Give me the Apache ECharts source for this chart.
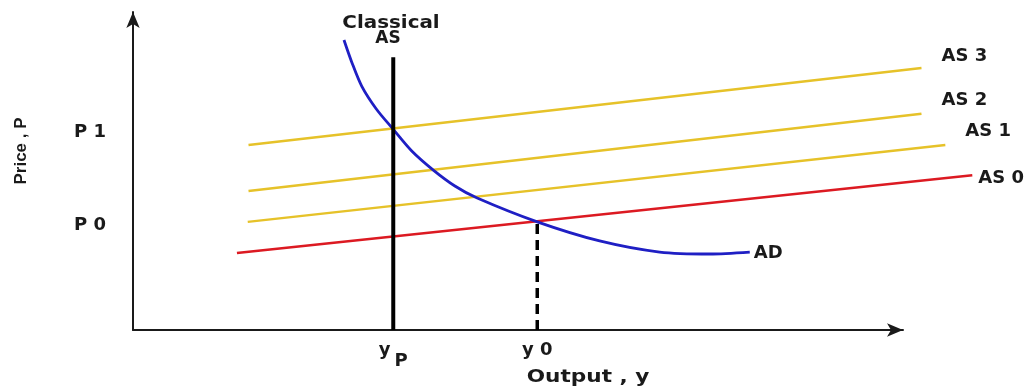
<!DOCTYPE html>
<html>
<head>
<meta charset="utf-8">
<script src="https://cdn.jsdelivr.net/npm/echarts@6/dist/echarts.min.js"></script>
<style>
  html, body { margin: 0; padding: 0; background: #fff; }
  #main { width: 1033px; height: 390px; }
</style>
</head>
<body>
<div id="main"></div>
<script>
// AS / AD diagram, values in arbitrary units (0..100 on the visible axes)
var as3 = [[15, 58.2], [102.4, 82.4]];
var as2 = [[15, 43.7], [102.4, 68.0]];
var as1 = [[14.9, 34.0], [105.5, 58.2]];
var as0 = [[13.5, 24.2], [109.0, 48.7]];
var adCurve = [
  [27.4, 91.2], [28.4, 84.3], [29.7, 76.7], [31.6, 69.5], [33.8, 63.1],
  [36.2, 56.3], [39.0, 50.3], [41.8, 45.3], [44.7, 41.5], [52.5, 34.0],
  [60.6, 28.0], [68.4, 24.5], [74.9, 23.9], [80.1, 24.5]
];
var classicalAS = [[33.8, 0], [33.8, 85.8]];
var y0Guide = [[52.5, 0], [52.5, 34.0]];

var yTickValues = [34.0, 63.2];
var yTickLabels = ['P 0', 'P 1'];
var xTickValues = [33.8, 52.5];
var xTickLabels = ['{a|y}{b|P}', 'y 0'];

var FONT = 'DejaVu Sans';
var INK = '#1a1a1a';

var chart = echarts.init(document.getElementById('main'));

function lookup(values, labels) {
  return function (v) {
    for (var i = 0; i < values.length; i++) {
      if (Math.abs(values[i] - v) < 0.01) return labels[i];
    }
    return '';
  };
}

function curve(name, data, color, width, offset, smooth) {
  return {
    name: name,
    type: 'line',
    xAxisIndex: 1,
    yAxisIndex: 1,
    data: data,
    smooth: smooth || false,
    showSymbol: false,
    silent: true,
    lineStyle: { color: color, width: width },
    endLabel: {
      show: true,
      formatter: name,
      distance: 0,
      offset: offset,
      color: INK,
      fontFamily: FONT,
      fontWeight: 'bold',
      fontSize: 18
    }
  };
}

var axisArrow = {
  show: true,
  symbol: ['none', 'arrow'],
  symbolSize: [10, 16],
  lineStyle: { color: INK, width: 2 }
};

var option = {
  animation: false,
  backgroundColor: '#fff',
  // grid 0 carries the visible axes, grid 1 (same scale, wider) carries the curves
  grid: [
    { left: 133, right: 130, top: 12, bottom: 60 },
    { left: 133, right: 53, top: 12, bottom: 60 }
  ],
  xAxis: [
    {
      type: 'value', gridIndex: 0, min: 0, max: 100,
      splitLine: { show: false },
      axisTick: { show: false },
      axisLine: axisArrow,
      axisLabel: {
        customValues: xTickValues,
        formatter: lookup(xTickValues, xTickLabels),
        margin: 11,
        color: INK,
        fontFamily: FONT,
        fontWeight: 'bold',
        fontSize: 18,
        rich: {
          a: { fontFamily: FONT, fontWeight: 'bold', fontSize: 18, color: INK, verticalAlign: 'top', lineHeight: 29 },
          b: { fontFamily: FONT, fontWeight: 'bold', fontSize: 18, color: INK, verticalAlign: 'bottom', lineHeight: 29, padding: [0, 0, 0, 4] }
        }
      }
    },
    {
      type: 'value', gridIndex: 1, min: 0, max: 110, show: false
    }
  ],
  yAxis: [
    {
      type: 'value', gridIndex: 0, min: 0, max: 100,
      splitLine: { show: false },
      axisTick: { show: false },
      axisLine: axisArrow,
      axisLabel: {
        customValues: yTickValues,
        formatter: lookup(yTickValues, yTickLabels),
        margin: 27,
        color: INK,
        fontFamily: FONT,
        fontWeight: 'bold',
        fontSize: 18,
        verticalAlign: 'top',
        lineHeight: 6
      }
    },
    {
      type: 'value', gridIndex: 1, min: 0, max: 100, show: false
    }
  ],
  graphic: [
    {
      type: 'text',
      x: 21, y: 151,
      rotation: Math.PI / 2,
      style: {
        text: 'Price , P',
        fill: INK,
        font: 'bold 17px "Liberation Sans"',
        textAlign: 'center',
        textVerticalAlign: 'middle'
      }
    },
    {
      type: 'text',
      x: 588, y: 377,
      scaleX: 1.2,
      style: {
        text: 'Output , y',
        fill: INK,
        font: 'bold 18px "DejaVu Sans"',
        textAlign: 'center',
        textVerticalAlign: 'middle'
      }
    },
    {
      type: 'text',
      x: 391, y: 24,
      scaleX: 1.17,
      style: {
        text: 'Classical',
        fill: INK,
        font: 'bold 17px "DejaVu Sans"',
        textAlign: 'center',
        textVerticalAlign: 'middle'
      }
    },
    {
      type: 'text',
      x: 388, y: 39,
      style: {
        text: 'AS',
        fill: INK,
        font: 'bold 17px "DejaVu Sans"',
        textAlign: 'center',
        textVerticalAlign: 'middle'
      }
    }
  ],
  series: [
    curve('AS 3', as3, '#e6c229', 2.5, [20, -12]),
    curve('AS 2', as2, '#e6c229', 2.5, [20, -13]),
    curve('AS 1', as1, '#e6c229', 2.5, [20, -14]),
    curve('AS 0', as0, '#dc1a22', 2.5, [6, 3]),
    curve('AD', adCurve, '#1f1fc4', 2.8, [4, 1], 0.3),
    {
      name: 'Classical AS',
      type: 'line',
      xAxisIndex: 1,
      yAxisIndex: 1,
      data: classicalAS,
      showSymbol: false,
      silent: true,
      lineStyle: { color: '#000', width: 4 }
    },
    {
      name: 'y0 guide',
      type: 'line',
      xAxisIndex: 1,
      yAxisIndex: 1,
      data: y0Guide,
      showSymbol: false,
      silent: true,
      lineStyle: { color: '#000', width: 3.5, type: [10, 6] }
    }
  ]
};

chart.setOption(option);
</script>
</body>
</html>
